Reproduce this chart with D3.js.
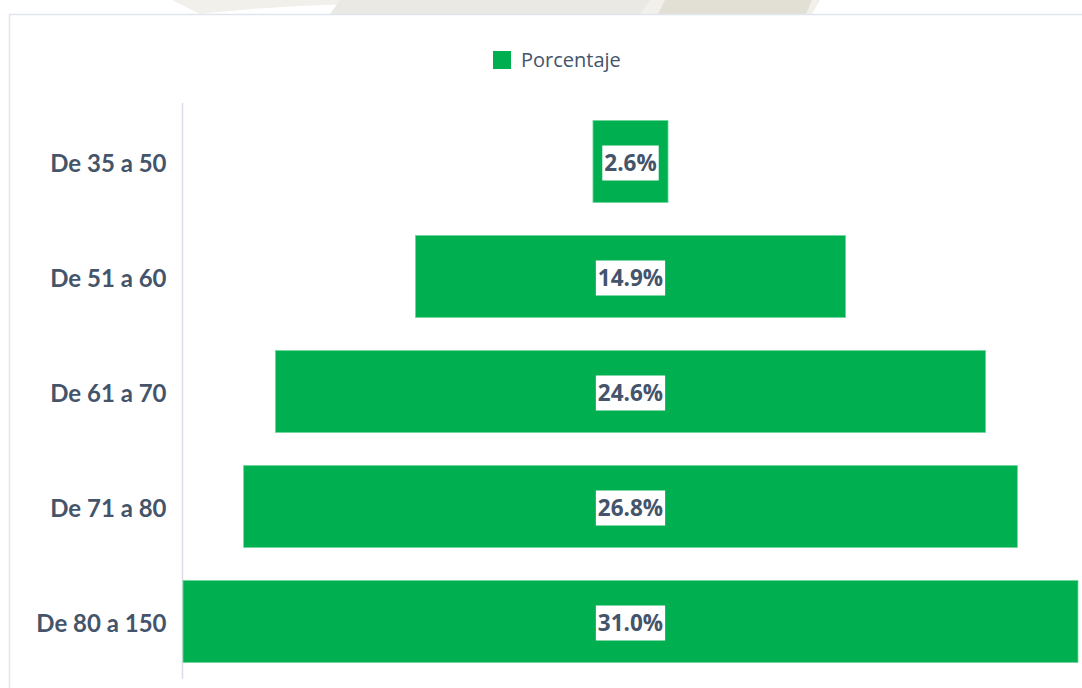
<!DOCTYPE html>
<html>
<head>
<meta charset="utf-8">
<script src="https://cdn.jsdelivr.net/npm/d3@7"></script>
<style>
  html, body { margin: 0; padding: 0; background: #fff; }
  svg { display: block; }
</style>
</head>
<body>
<div id="chart"></div>
<script>
// data
var categories = ["De 35 a 50", "De 51 a 60", "De 61 a 70", "De 71 a 80", "De 80 a 150"];
var percentages = [2.6, 14.9, 24.6, 26.8, 31.0];
var seriesName = "Porcentaje";

var W = 1082, H = 688;
var green = "#00b050", textColor = "#44546a";

var svg = d3.select("#chart").append("svg")
  .attr("width", W)
  .attr("height", H);

// faint watermark behind the card (top strip)
var wm = svg.append("g");
wm.append("path")
  .attr("d", "M172,0 L820,0 L812,14 L640,14 Q560,8 450,4 Q300,2 200,14 Z")
  .attr("fill", "#f2f0eb");
wm.append("path")
  .attr("d", "M340,0 L650,0 L640,14 L330,14 Z")
  .attr("fill", "#ebe9e3");
wm.append("path")
  .attr("d", "M665,0 L812,0 L806,14 L658,14 Z")
  .attr("fill", "#e2e0d5");

// card
svg.append("rect")
  .attr("x", 9.5)
  .attr("y", 14.5)
  .attr("width", W + 10)
  .attr("height", H)
  .attr("fill", "#fff")
  .attr("stroke", "#dfe5ee")
  .attr("stroke-width", 1.5);

// plot area
var plotLeft = 183, plotRight = 1078, plotTop = 104, plotBottom = 679;
var plotW = plotRight - plotLeft;
var centre = plotLeft + plotW / 2;

var x = d3.scaleLinear()
  .domain([0, d3.max(percentages)])
  .range([0, plotW]);

var y = d3.scaleBand()
  .domain(categories)
  .range([plotTop, plotBottom])
  .paddingInner(0.287)
  .paddingOuter(0.1435);

// category axis
var yAxis = svg.append("g")
  .attr("transform", "translate(" + (plotLeft - 0.5) + ",0)")
  .call(d3.axisLeft(y).tickSize(0).tickPadding(16));
yAxis.select(".domain")
  .attr("stroke", "#d9dee6")
  .attr("stroke-width", 1.5)
  .attr("d", "M0," + (plotTop - 1) + "V" + plotBottom);
yAxis.selectAll("text")
  .attr("dy", "0.42em")
  .attr("font-family", "Lato, 'Open Sans', sans-serif")
  .attr("font-weight", "bold")
  .attr("font-size", 24)
  .attr("fill", textColor);

// bars, centred (funnel)
var rows = categories.map(function(c, i) { return { cat: c, val: percentages[i] }; });

svg.append("g").selectAll("rect")
  .data(rows)
  .enter()
  .append("rect")
  .attr("x", function(d) { return centre - x(d.val) / 2; })
  .attr("y", function(d) { return y(d.cat); })
  .attr("width", function(d) { return x(d.val); })
  .attr("height", y.bandwidth())
  .attr("fill", green)
  .attr("stroke", "#6fd69a")
  .attr("stroke-width", 0.8);

// value labels in white boxes
var labels = svg.append("g").selectAll("g")
  .data(rows)
  .enter()
  .append("g")
  .attr("transform", function(d) {
    return "translate(" + centre + "," + (y(d.cat) + y.bandwidth() / 2) + ")";
  });

labels.append("text")
  .attr("text-anchor", "middle")
  .attr("dy", "0.4em")
  .attr("font-family", "'Open Sans', Lato, sans-serif")
  .attr("font-weight", "bold")
  .attr("font-size", 22.5)
  .attr("fill", textColor)
  .text(function(d) { return d.val.toFixed(1) + "%"; });

labels.each(function() {
  var g = d3.select(this);
  var bb = g.select("text").node().getBBox();
  g.insert("rect", "text")
    .attr("x", bb.x - 2)
    .attr("y", -16)
    .attr("width", bb.width + 4)
    .attr("height", 35)
    .attr("fill", "#fff");
});

// legend
var legend = svg.append("g").attr("transform", "translate(493,51)");
legend.append("rect")
  .attr("width", 18)
  .attr("height", 18)
  .attr("fill", green);
legend.append("text")
  .attr("x", 28)
  .attr("y", 9)
  .attr("dy", "0.35em")
  .attr("font-family", "'Open Sans', sans-serif")
  .attr("font-size", 20)
  .attr("fill", textColor)
  .text(seriesName);
</script>
</body>
</html>
